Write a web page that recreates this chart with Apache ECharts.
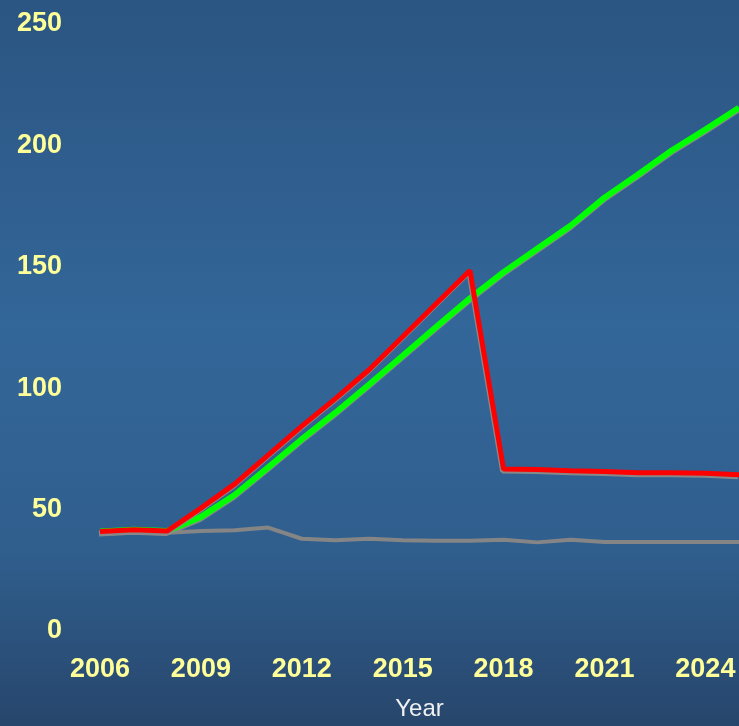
<!DOCTYPE html>
<html>
<head>
<meta charset="utf-8">
<script src="https://cdn.jsdelivr.net/npm/echarts@6/dist/echarts.min.js"></script>
<style>
  html, body { margin: 0; padding: 0; background: #2f5e8e; }
  #chart { width: 739px; height: 726px; }
</style>
</head>
<body>
<div id="chart"></div>
<script>
// Years on the horizontal axis
const years = ['2006','2007','2008','2009','2010','2011','2012','2013','2014','2015',
               '2016','2017','2018','2019','2020','2021','2022','2023','2024','2025'];

// Flat baseline (grey)
const baseline = [40, 41, 40.5, 41.2, 41.5, 42.6, 38, 37.4, 38, 37.4,
                  37.2, 37.2, 37.6, 36.5, 37.6, 36.7, 36.7, 36.7, 36.7, 36.7];

// Steady growth (green)
const growth = [41, 41.7, 41.2, 47, 56, 67.4, 79, 89.9, 101.5, 113.4,
                125.3, 137, 147.8, 157.4, 167, 178.5, 188, 197.9, 206.5, 215.5];

// Growth that drops back after 2017 (red)
const dropped = [41, 41.7, 41.2, 50.6, 60.5, 72.4, 84.4, 95.7, 107.6, 121.2,
                 134.9, 148.5, 66.7, 66.5, 66, 65.7, 65.2, 65.2, 65, 64.4];

const yTicks = { min: 0, max: 250, step: 50 };

const chart = echarts.init(document.getElementById('chart'), null, { renderer: 'canvas' });

const labelFont = {
  color: '#ffff99',
  fontFamily: '"Liberation Sans", Arial, sans-serif',
  fontWeight: 'bold',
  fontSize: 27
};

function shadowed(color, width) {
  return {
    color: color,
    width: width,
    shadowColor: '#888888',
    shadowBlur: 0,
    shadowOffsetX: -1,
    shadowOffsetY: 2
  };
}

chart.setOption({
  backgroundColor: {
    type: 'linear', x: 0, y: 0, x2: 0, y2: 1,
    colorStops: [
      { offset: 0, color: '#2b5582' },
      { offset: 0.45, color: '#336699' },
      { offset: 0.75, color: '#305f8e' },
      { offset: 1, color: '#27466c' }
    ]
  },
  animation: false,
  grid: { left: 100, right: -4, top: 24, bottom: 92 },
  xAxis: {
    type: 'category',
    data: years,
    boundaryGap: false,
    name: 'Year',
    nameLocation: 'middle',
    nameGap: 66,
    nameTextStyle: {
      color: '#f0f0f0',
      fontFamily: '"Liberation Sans", Arial, sans-serif',
      fontSize: 24
    },
    axisLine: { show: false },
    axisTick: { show: false },
    splitLine: { show: false },
    axisLabel: Object.assign({ interval: 2, margin: 25 }, labelFont)
  },
  yAxis: {
    type: 'value',
    min: yTicks.min,
    max: yTicks.max,
    interval: yTicks.step,
    axisLine: { show: false },
    axisTick: { show: false },
    splitLine: { show: false },
    axisLabel: Object.assign({ margin: 38 }, labelFont)
  },
  series: [
    {
      type: 'line', data: baseline, symbol: 'none',
      lineStyle: { color: '#858585', width: 4 }
    },
    {
      type: 'line', data: growth, symbol: 'none',
      lineStyle: shadowed('#00ff00', 6)
    },
    {
      type: 'line', data: dropped, symbol: 'none',
      lineStyle: shadowed('#ff0000', 5)
    }
  ]
});
</script>
</body>
</html>
